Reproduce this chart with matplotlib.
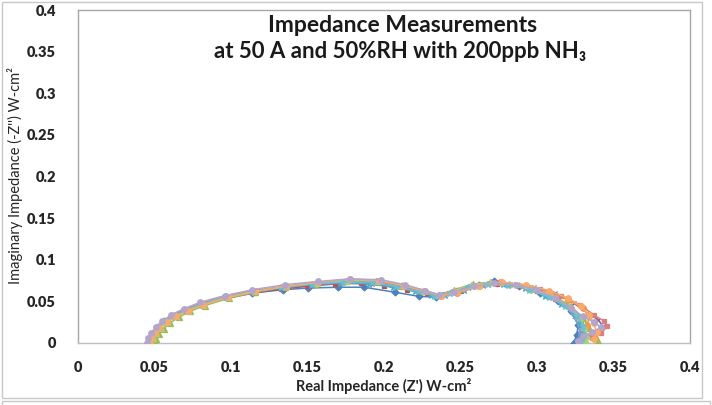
import matplotlib
matplotlib.use("Agg")
import matplotlib.pyplot as plt
from matplotlib.patches import Rectangle

plt.rcParams['font.family'] = ['Lato', 'DejaVu Sans']

title_line1 = "Impedance Measurements"
title_line2 = "at 50 A and 50%RH with 200ppb NH₃"
x_label = "Real Impedance (Z') W-cm²"
y_label = "Imaginary Impedance (-Z'') W-cm²"
x_ticks = [0, 0.05, 0.1, 0.15, 0.2, 0.25, 0.3, 0.35, 0.4]
y_ticks = [0, 0.05, 0.1, 0.15, 0.2, 0.25, 0.3, 0.35, 0.4]
x_tick_labels = ["0", "0.05", "0.1", "0.15", "0.2", "0.25", "0.3", "0.35", "0.4"]
y_tick_labels = ["0", "0.05", "0.1", "0.15", "0.2", "0.25", "0.3", "0.35", "0.4"]

s1_x = [0.046,0.047,0.049,0.052,0.056,0.062,0.070,0.080,0.097,0.114,0.134,0.150,0.170,0.187,0.207,0.223,0.234,0.248,0.262,0.272,0.288,0.302,0.314,0.322,0.327,0.326,0.324]
s1_y = [0.000,0.006,0.012,0.019,0.026,0.033,0.040,0.047,0.055,0.060,0.064,0.066,0.067,0.067,0.061,0.056,0.055,0.062,0.070,0.075,0.068,0.060,0.050,0.038,0.022,0.010,0.000]

s2_x = [0.047,0.048,0.050,0.053,0.057,0.063,0.071,0.082,0.098,0.115,0.133,0.150,0.168,0.185,0.200,0.215,0.228,0.237,0.250,0.262,0.274,0.288,0.300,0.312,0.320,0.327,0.330,0.331,0.328]
s2_y = [0.000,0.006,0.012,0.018,0.025,0.032,0.039,0.046,0.054,0.060,0.065,0.068,0.071,0.072,0.069,0.064,0.060,0.057,0.062,0.068,0.071,0.069,0.063,0.053,0.045,0.032,0.018,0.008,0.002]

s3_x = [0.050,0.051,0.053,0.056,0.060,0.066,0.073,0.083,0.099,0.116,0.135,0.155,0.175,0.195,0.212,0.226,0.236,0.246,0.258,0.270,0.282,0.296,0.310,0.322,0.330,0.334,0.338,0.340]
s3_y = [0.000,0.005,0.011,0.017,0.024,0.031,0.038,0.045,0.054,0.061,0.067,0.071,0.074,0.074,0.069,0.062,0.058,0.064,0.071,0.073,0.071,0.066,0.057,0.045,0.030,0.018,0.008,0.003]

s4_x = [0.046,0.047,0.049,0.052,0.056,0.062,0.070,0.080,0.096,0.113,0.132,0.152,0.172,0.192,0.208,0.222,0.233,0.245,0.258,0.270,0.284,0.298,0.312,0.324,0.333,0.340,0.343,0.340,0.334,0.330]
s4_y = [0.000,0.006,0.012,0.019,0.026,0.033,0.040,0.047,0.055,0.061,0.066,0.070,0.072,0.071,0.067,0.062,0.058,0.062,0.069,0.072,0.071,0.067,0.060,0.048,0.036,0.028,0.020,0.012,0.008,0.004]

s5_x = [0.046,0.047,0.049,0.052,0.057,0.063,0.071,0.081,0.097,0.114,0.133,0.152,0.171,0.190,0.206,0.220,0.231,0.240,0.252,0.265,0.278,0.292,0.305,0.316,0.324,0.328,0.330,0.328]
s5_y = [0.000,0.006,0.012,0.019,0.026,0.033,0.040,0.047,0.055,0.061,0.066,0.070,0.072,0.071,0.067,0.062,0.058,0.058,0.064,0.070,0.071,0.066,0.057,0.047,0.036,0.024,0.012,0.003]

s6_x = [0.047,0.048,0.050,0.053,0.058,0.064,0.072,0.082,0.098,0.116,0.136,0.157,0.177,0.196,0.212,0.226,0.237,0.248,0.262,0.276,0.292,0.308,0.320,0.330,0.334,0.333,0.336,0.338]
s6_y = [0.000,0.006,0.012,0.018,0.025,0.032,0.039,0.046,0.055,0.062,0.068,0.073,0.076,0.074,0.068,0.062,0.056,0.060,0.068,0.073,0.069,0.061,0.052,0.042,0.032,0.022,0.012,0.006]

s7_x = [0.046,0.047,0.049,0.052,0.056,0.062,0.070,0.081,0.097,0.115,0.134,0.154,0.174,0.193,0.209,0.223,0.234,0.244,0.256,0.269,0.282,0.296,0.309,0.319,0.325,0.328,0.327]
s7_y = [0.000,0.006,0.012,0.019,0.026,0.033,0.040,0.047,0.056,0.062,0.067,0.071,0.073,0.072,0.068,0.062,0.057,0.060,0.067,0.071,0.070,0.064,0.055,0.044,0.030,0.015,0.004]

s8_x = [0.046,0.047,0.049,0.052,0.056,0.062,0.070,0.080,0.097,0.115,0.135,0.156,0.176,0.195,0.211,0.225,0.236,0.247,0.260,0.273,0.287,0.302,0.316,0.328,0.337,0.344,0.346,0.342,0.336]
s8_y = [0.000,0.006,0.012,0.019,0.026,0.033,0.040,0.048,0.056,0.063,0.068,0.072,0.075,0.074,0.069,0.063,0.058,0.061,0.068,0.072,0.070,0.065,0.057,0.046,0.034,0.026,0.020,0.012,0.006]

s9_x = [0.048,0.049,0.051,0.054,0.058,0.064,0.072,0.082,0.098,0.116,0.136,0.156,0.176,0.196,0.212,0.226,0.236,0.246,0.257,0.269,0.282,0.296,0.310,0.321,0.328,0.331,0.333,0.332]
s9_y = [0.000,0.006,0.012,0.018,0.025,0.032,0.039,0.046,0.055,0.062,0.068,0.072,0.075,0.075,0.070,0.063,0.058,0.063,0.070,0.073,0.071,0.065,0.056,0.044,0.031,0.019,0.009,0.002]

s10_x = [0.046,0.047,0.049,0.052,0.057,0.063,0.071,0.081,0.097,0.114,0.133,0.153,0.173,0.192,0.208,0.222,0.233,0.243,0.255,0.268,0.281,0.295,0.308,0.318,0.326,0.330,0.331,0.329]
s10_y = [0.000,0.006,0.012,0.019,0.026,0.033,0.040,0.047,0.056,0.062,0.067,0.071,0.073,0.073,0.068,0.062,0.057,0.060,0.067,0.071,0.070,0.064,0.055,0.045,0.033,0.021,0.010,0.003]

s11_x = [0.047,0.048,0.050,0.053,0.058,0.064,0.072,0.082,0.098,0.116,0.136,0.157,0.178,0.197,0.213,0.227,0.237,0.248,0.262,0.277,0.293,0.308,0.320,0.329,0.334,0.337,0.339,0.337]
s11_y = [0.000,0.006,0.012,0.018,0.025,0.032,0.039,0.046,0.055,0.062,0.068,0.073,0.077,0.075,0.069,0.062,0.057,0.061,0.069,0.073,0.070,0.063,0.054,0.044,0.034,0.024,0.013,0.005]

s12_x = [0.045,0.046,0.048,0.051,0.055,0.061,0.069,0.080,0.096,0.114,0.135,0.157,0.178,0.198,0.214,0.227,0.236,0.246,0.259,0.272,0.286,0.300,0.312,0.322,0.330,0.337,0.342,0.336,0.330,0.327]
s12_y = [0.000,0.006,0.012,0.019,0.026,0.034,0.041,0.049,0.057,0.064,0.070,0.074,0.077,0.076,0.070,0.063,0.058,0.061,0.068,0.072,0.070,0.064,0.054,0.042,0.032,0.025,0.019,0.013,0.008,0.003]

series_x = [s1_x, s2_x, s3_x, s4_x, s5_x, s6_x, s7_x, s8_x, s9_x, s10_x, s11_x, s12_x]
series_y = [s1_y, s2_y, s3_y, s4_y, s5_y, s6_y, s7_y, s8_y, s9_y, s10_y, s11_y, s12_y]
colors = ["#4F81BD", "#C0504D", "#9BBB59", "#8064A2", "#4BACC6", "#F79646",
          "#7F9FCF", "#D9807E", "#B0CB7D", "#6FBDD1", "#F9AB6B", "#B4A5CC"]
markers = ["D", "s", "^", "x", "*", "o", "+", "s", "^", "*", "o", "o"]
msizes = [3.5, 3.5, 4, 3.5, 4.5, 4, 4.5, 3.5, 4, 4.5, 4, 4]

fig = plt.figure(figsize=(7.12, 4.05), dpi=100)
# outer chart frame
fig.patches.append(Rectangle((2/712, 1-398/405), 700/712, 396/405, transform=fig.transFigure,
                             fill=False, edgecolor="#C8C8C8", lw=1.0))
fig.patches.append(Rectangle((2/712, -0.02), 708/712, (0.02+1-401/405), transform=fig.transFigure,
                             fill=False, edgecolor="#C8C8C8", lw=1.0))

ax = fig.add_axes([78/712, 1-343/405, 612/712, 333/405])
for xs, ys, c, m, ms in zip(series_x, series_y, colors, markers, msizes):
    ax.plot(xs, ys, color=c, lw=1.1, marker=m, markersize=ms, markeredgewidth=0.9, zorder=3)

ax.set_xlim(0, 0.4)
ax.set_ylim(0, 0.4)
ax.set_xticks(x_ticks)
ax.set_xticklabels(x_tick_labels)
ax.set_yticks(y_ticks)
ax.set_yticklabels(y_tick_labels)
ax.tick_params(length=0, labelsize=10.5, colors="#262626")
ax.tick_params(axis='x', pad=13)
ax.tick_params(axis='y', pad=16)
for lbl in ax.get_xticklabels() + ax.get_yticklabels():
    lbl.set_fontweight("heavy")
for sp in ax.spines.values():
    sp.set_color("#A6A6A6")
    sp.set_linewidth(1.0)
ax.spines['bottom'].set_color("#BFBFBF")

fig.text(384/712, 1-386/405, x_label, ha="center", va="center", fontsize=10.5,
         fontweight="bold", color="#262626")
fig.text(15/712, 1-175/405, y_label, ha="center", va="center", fontsize=10.5,
         rotation=90, color="#262626")

fig.text(403/712, 1-26/405, title_line1, ha="center", va="center", fontsize=16.5,
         fontweight="bold", color="#1a1a1a")
fig.text(400/712, 1-52/405, title_line2, ha="center", va="center", fontsize=16,
         fontweight="bold", color="#1a1a1a")

fig.savefig("out.png", dpi=100)
